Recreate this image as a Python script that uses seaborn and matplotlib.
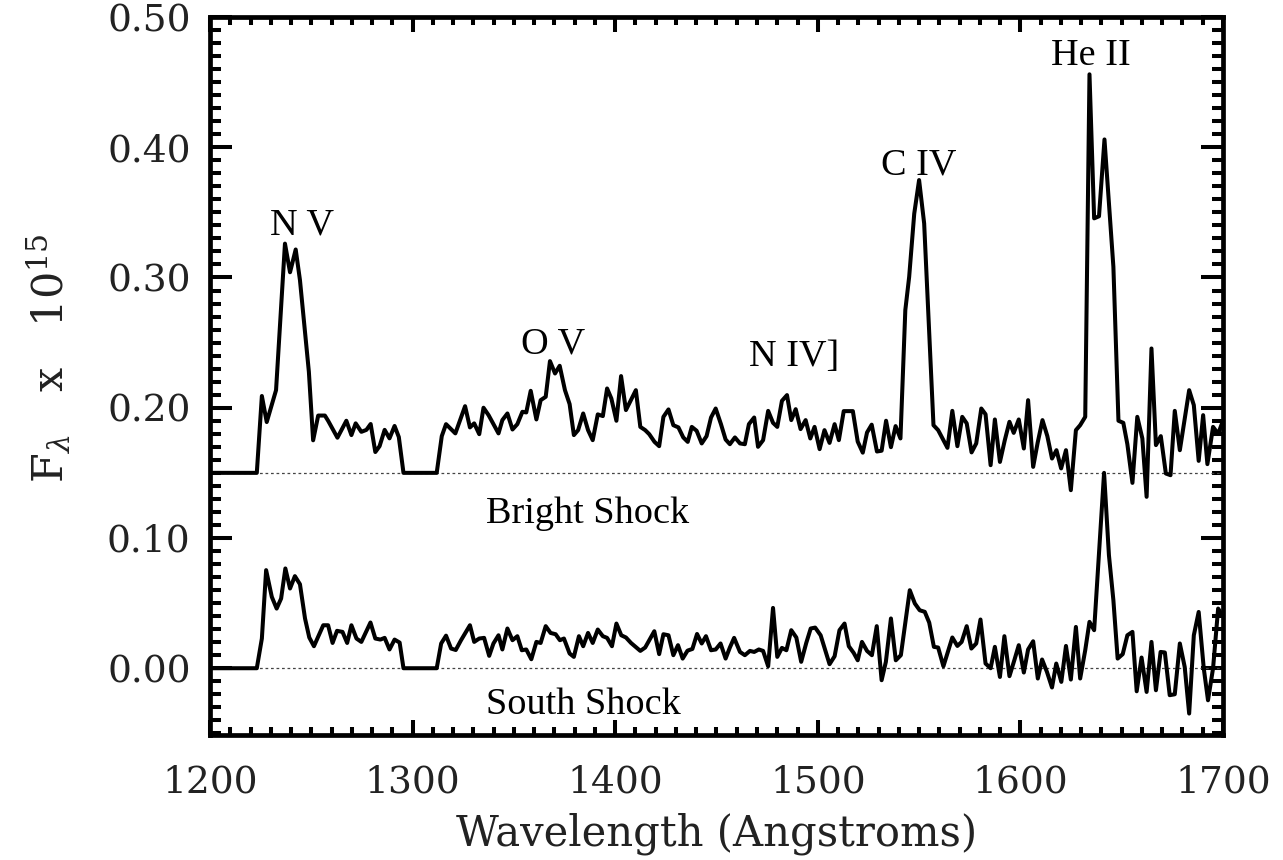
import numpy as np
import pandas as pd
import matplotlib
matplotlib.use("Agg")
import matplotlib.pyplot as plt
from matplotlib.ticker import MultipleLocator, FormatStrFormatter
import seaborn as sns

# Bright shock spectrum (plotted with a vertical offset)
bright_wave = [
    1200.0, 1223.1, 1225.6, 1228.0, 1232.6, 1237.0, 1239.5, 1242.3, 1244.4, 1248.8,
    1250.9, 1253.4, 1256.7, 1258.3, 1262.9, 1267.3, 1269.8, 1271.9, 1274.7, 1277.2,
    1279.3, 1281.6, 1283.7, 1286.2, 1288.6, 1291.1, 1293.2, 1295.5, 1311.9, 1314.4,
    1316.5, 1321.1, 1325.9, 1328.3, 1330.4, 1332.9, 1335.0, 1337.5, 1342.4, 1344.3,
    1346.8, 1349.3, 1351.7, 1354.2, 1356.1, 1358.3, 1361.1, 1363.2, 1365.7, 1367.8,
    1370.3, 1372.6, 1375.2, 1377.5, 1379.6, 1381.7, 1384.2, 1386.6, 1388.9, 1391.4,
    1393.9, 1396.0, 1398.1, 1400.6, 1402.9, 1405.3, 1410.2, 1412.4, 1414.8, 1416.8,
    1419.4, 1421.7, 1423.8, 1426.3, 1428.7, 1431.2, 1433.6, 1435.8, 1437.8, 1440.2,
    1442.7, 1445.1, 1447.3, 1449.6, 1452.2, 1454.5, 1456.6, 1459.1, 1461.6, 1464.0,
    1466.0, 1468.6, 1470.5, 1473.0, 1475.5, 1477.9, 1480.0, 1482.3, 1484.8, 1486.9,
    1489.1, 1491.5, 1494.0, 1496.3, 1498.4, 1500.9, 1503.3, 1505.8, 1508.3, 1510.4,
    1512.8, 1517.3, 1519.7, 1522.2, 1524.3, 1526.6, 1529.2, 1531.5, 1533.7, 1536.1,
    1538.4, 1540.8, 1543.2, 1545.1, 1547.6, 1550.0, 1552.5, 1557.1, 1559.4, 1564.0,
    1566.4, 1568.9, 1571.3, 1573.5, 1575.9, 1578.2, 1580.7, 1582.8, 1585.3, 1587.4,
    1589.9, 1592.3, 1594.6, 1596.7, 1599.2, 1601.7, 1603.8, 1606.3, 1608.5, 1610.9,
    1613.3, 1615.6, 1617.8, 1620.1, 1622.5, 1624.9, 1627.4, 1629.5, 1632.0, 1634.1,
    1636.4, 1638.8, 1641.5, 1645.9, 1648.4, 1650.8, 1652.8, 1655.3, 1657.7, 1660.2,
    1662.3, 1664.7, 1666.9, 1669.3, 1671.8, 1674.1, 1676.2, 1678.7, 1683.3, 1685.6,
    1688.0, 1690.2, 1692.3, 1695.1, 1697.6, 1700.0,
]
bright_flux = [
    0.0, 0.0, 0.059, 0.039, 0.0635, 0.176, 0.154, 0.1715, 0.148, 0.0776,
    0.025, 0.044, 0.044, 0.040, 0.027, 0.040, 0.029, 0.038, 0.0315, 0.033,
    0.0375, 0.016, 0.0205, 0.033, 0.0265, 0.036, 0.0275, 0.0, 0.0, 0.0282,
    0.0374, 0.0303, 0.0512, 0.0349, 0.038, 0.0297, 0.050, 0.0443, 0.0303, 0.0405,
    0.0456, 0.0333, 0.0374, 0.0469, 0.0464, 0.063, 0.041, 0.0558, 0.0584, 0.0858,
    0.0763, 0.0822, 0.0635, 0.0528, 0.029, 0.0328, 0.0456, 0.0328, 0.0251, 0.0449,
    0.0436, 0.0648, 0.0571, 0.040, 0.0743, 0.0482, 0.0635, 0.0353, 0.0328, 0.0297,
    0.0238, 0.0205, 0.043, 0.0487, 0.0366, 0.0349, 0.0272, 0.0238, 0.0353, 0.0323,
    0.0226, 0.0282, 0.0425, 0.0494, 0.0374, 0.0256, 0.022, 0.0272, 0.0226, 0.022,
    0.0374, 0.0425, 0.020, 0.0251, 0.0476, 0.0384, 0.0353, 0.0553, 0.0597, 0.0405,
    0.0489, 0.0336, 0.0405, 0.0264, 0.0353, 0.0182, 0.0328, 0.023, 0.0374, 0.0251,
    0.0474, 0.0474, 0.024, 0.0155, 0.031, 0.037, 0.0164, 0.017, 0.040, 0.0197,
    0.0359, 0.0264, 0.125, 0.1505, 0.199, 0.2248, 0.1915, 0.0366, 0.0328, 0.0192,
    0.0476, 0.0205, 0.043, 0.038, 0.0157, 0.0226, 0.0494, 0.045, 0.0059, 0.041,
    0.0084, 0.0251, 0.0392, 0.0307, 0.041, 0.0187, 0.0558, 0.0046, 0.023, 0.0405,
    0.0282, 0.011, 0.0174, 0.0034, 0.0174, -0.0133, 0.0328, 0.0366, 0.043, 0.306,
    0.1954, 0.197, 0.256, 0.1582, 0.040, 0.0384, 0.022, -0.0077, 0.043, 0.0264,
    -0.0184, 0.0955, 0.0213, 0.0282, -0.0005, -0.0018, 0.0476, 0.0174, 0.0635, 0.052,
    0.0092, 0.0443, 0.0067, 0.0353, 0.030, 0.040,
]
bright_offset = 0.15

# South shock spectrum
south_wave = [
    1200.0, 1223.1, 1225.6, 1227.7, 1230.5, 1232.9, 1235.1, 1237.2, 1239.5, 1241.9,
    1244.4, 1246.9, 1249.0, 1251.3, 1253.7, 1255.9, 1258.3, 1260.5, 1262.7, 1265.4,
    1267.7, 1269.8, 1272.3, 1274.7, 1279.2, 1281.6, 1284.1, 1286.2, 1288.6, 1291.1,
    1293.6, 1295.5, 1311.9, 1314.1, 1316.5, 1319.0, 1321.3, 1323.9, 1328.3, 1330.4,
    1332.9, 1335.3, 1337.8, 1339.9, 1342.4, 1344.3, 1346.8, 1349.3, 1351.7, 1353.9,
    1356.1, 1358.6, 1361.1, 1363.2, 1365.7, 1368.1, 1370.6, 1372.7, 1374.7, 1377.5,
    1379.6, 1382.1, 1384.2, 1386.6, 1388.9, 1391.4, 1393.9, 1396.0, 1398.4, 1400.6,
    1403.0, 1405.3, 1407.8, 1412.4, 1414.8, 1419.3, 1421.7, 1423.8, 1426.3, 1428.7,
    1431.0, 1433.3, 1435.7, 1438.1, 1440.4, 1442.7, 1444.8, 1447.3, 1449.6, 1452.0,
    1454.5, 1456.6, 1458.7, 1461.6, 1464.0, 1466.5, 1468.6, 1470.9, 1473.0, 1475.5,
    1477.9, 1480.0, 1482.3, 1484.5, 1486.9, 1489.4, 1491.8, 1494.3, 1496.5, 1498.7,
    1501.4, 1505.8, 1508.3, 1510.7, 1513.2, 1515.3, 1517.7, 1519.7, 1521.8, 1524.3,
    1526.7, 1529.1, 1531.5, 1533.6, 1536.1, 1538.5, 1541.0, 1545.4, 1547.9, 1550.3,
    1552.8, 1555.0, 1557.3, 1559.4, 1562.0, 1566.4, 1568.9, 1571.0, 1573.5, 1575.8,
    1578.2, 1580.3, 1582.8, 1585.3, 1587.4, 1589.9, 1592.1, 1594.6, 1597.0, 1599.2,
    1601.7, 1603.8, 1606.3, 1608.6, 1610.7, 1613.1, 1615.6, 1617.7, 1620.2, 1622.5,
    1624.9, 1627.4, 1629.5, 1632.0, 1634.1, 1636.4, 1641.3, 1643.7, 1645.9, 1648.0,
    1650.5, 1652.8, 1655.3, 1657.4, 1659.8, 1662.3, 1664.7, 1666.9, 1669.2, 1671.3,
    1673.7, 1676.2, 1678.7, 1681.1, 1683.3, 1685.6, 1688.0, 1690.5, 1692.6, 1695.1,
    1697.6, 1700.0,
]
south_flux = [
    0.0, 0.0, 0.0228, 0.0753, 0.0548, 0.0458, 0.0535, 0.0766, 0.0612, 0.0707,
    0.0645, 0.0382, 0.0236, 0.0169, 0.0253, 0.033, 0.033, 0.0194, 0.0287, 0.0279,
    0.0194, 0.033, 0.0228, 0.0202, 0.0351, 0.0228, 0.022, 0.0233, 0.0144, 0.022,
    0.0197, 0.0, 0.0, 0.019, 0.025, 0.0151, 0.014, 0.0215, 0.033, 0.0202,
    0.0228, 0.0233, 0.0095, 0.019, 0.0253, 0.0144, 0.0305, 0.0215, 0.0246, 0.0138,
    0.0144, 0.0069, 0.0202, 0.0194, 0.0323, 0.0271, 0.0261, 0.0215, 0.0228, 0.0113,
    0.0087, 0.0246, 0.0169, 0.0271, 0.0194, 0.0297, 0.0246, 0.0233, 0.0169, 0.0343,
    0.0253, 0.0236, 0.0194, 0.0133, 0.0159, 0.0284, 0.0108, 0.0261, 0.0253, 0.010,
    0.0177, 0.0074, 0.0135, 0.0148, 0.0263, 0.019, 0.0246, 0.0138, 0.0144, 0.019,
    0.0074, 0.0159, 0.0233, 0.0125, 0.010, 0.0133, 0.0125, 0.0144, 0.0133, 0.0015,
    0.0463, 0.0087, 0.0156, 0.0138, 0.0292, 0.0236, 0.0049, 0.0194, 0.0305, 0.0312,
    0.0253, 0.0031, 0.0092, 0.0292, 0.0343, 0.0169, 0.0118, 0.0061, 0.0202, 0.0133,
    0.010, 0.0323, -0.0092, 0.0049, 0.0382, 0.0061, 0.010, 0.0599, 0.0497, 0.0445,
    0.0433, 0.035, 0.0164, 0.0159, 0.0015, 0.0236, 0.0171, 0.0202, 0.0323, 0.0151,
    0.019, 0.0374, 0.0036, 0.0, 0.0164, -0.0067, 0.0246, -0.0061, 0.0061, 0.0177,
    -0.0033, 0.0144, 0.0207, -0.0079, 0.0067, -0.0028, -0.0148, 0.0036, -0.0105, 0.0171,
    -0.0087, 0.0317, -0.0079, 0.0138, 0.0356, 0.0292, 0.150, 0.0868, 0.0522, 0.0074,
    0.0108, 0.0253, 0.0279, -0.0177, 0.0082, -0.0182, 0.0202, -0.0169, 0.0125, 0.0121,
    -0.0207, -0.0200, 0.019, 0.001, -0.0348, 0.0253, 0.0432, 0.0, -0.0246, 0.0,
    0.0458, 0.040,
]

# Emission line identifications (wavelength, flux of label baseline)
line_names = ["N V", "O V", "N IV]", "C IV", "He II"]
line_wave = [1245.3, 1369.4, 1488.3, 1550.0, 1634.8]
line_flux = [0.333, 0.242, 0.232, 0.379, 0.463]

# Region names (wavelength, flux of label baseline)
region_names = ["Bright Shock", "South Shock"]
region_wave = [1386.6, 1384.1]
region_flux = [0.1114, -0.0353]

sns.set_theme(style="ticks")
plt.rcParams["font.family"] = ["DejaVu Serif"]
plt.rcParams["mathtext.fontset"] = "dejavuserif"

fig = plt.figure(figsize=(12.83, 8.6), dpi=100)
ax = fig.add_axes([0.16368, 0.14500, 0.78955, 0.83523])

bright_df = pd.DataFrame({"wave": bright_wave,
                          "flux": np.asarray(bright_flux) + bright_offset})
south_df = pd.DataFrame({"wave": south_wave, "flux": south_flux})

# zero levels of each spectrum
for level in (0.0, bright_offset):
    ax.axhline(level, color="#444444", lw=0.9, ls=(0, (2.2, 2.2)), zorder=1)

sns.lineplot(data=bright_df, x="wave", y="flux", ax=ax, color="black",
             lw=2.9, sort=False, estimator=None, zorder=3)
sns.lineplot(data=south_df, x="wave", y="flux", ax=ax, color="black",
             lw=2.9, sort=False, estimator=None, zorder=3)

ax.set_xlim(1200, 1700)
ax.set_ylim(-0.0515, 0.50)

ax.xaxis.set_major_locator(MultipleLocator(100))
ax.xaxis.set_minor_locator(MultipleLocator(10))
ax.yaxis.set_major_locator(MultipleLocator(0.1))
ax.yaxis.set_minor_locator(MultipleLocator(0.01))
ax.xaxis.set_major_formatter(FormatStrFormatter("%d"))
ax.yaxis.set_major_formatter(FormatStrFormatter("%.2f"))

ax.tick_params(which="both", direction="in", top=True, right=True,
               width=2.9, color="black", labelsize=27, labelcolor="#222222")
ax.tick_params(axis="x", which="major", length=10.8, pad=21)
ax.tick_params(axis="x", which="minor", length=5.8)
ax.tick_params(axis="y", which="major", length=15.6, pad=14)
ax.tick_params(axis="y", which="minor", length=7.9)

for sp in ax.spines.values():
    sp.set_linewidth(3.4)
    sp.set_color("black")

ax.set_xlabel("Wavelength (Angstroms)", fontsize=30, color="#222222")
ax.xaxis.set_label_coords(0.5, -0.108)
ax.set_ylabel(r"F$_\lambda$   x   10$^{15}$", fontsize=31, color="#222222")
ax.yaxis.set_label_coords(-0.135, 0.525)

for name, w, f in zip(line_names, line_wave, line_flux):
    ax.text(w, f, name, ha="center", va="baseline", fontsize=27.5,
            family="Liberation Serif", color="black")
for name, w, f in zip(region_names, region_wave, region_flux):
    ax.text(w, f, name, ha="center", va="baseline", fontsize=27.5,
            family="Liberation Serif", color="black")

fig.savefig("out.png", dpi=100)
